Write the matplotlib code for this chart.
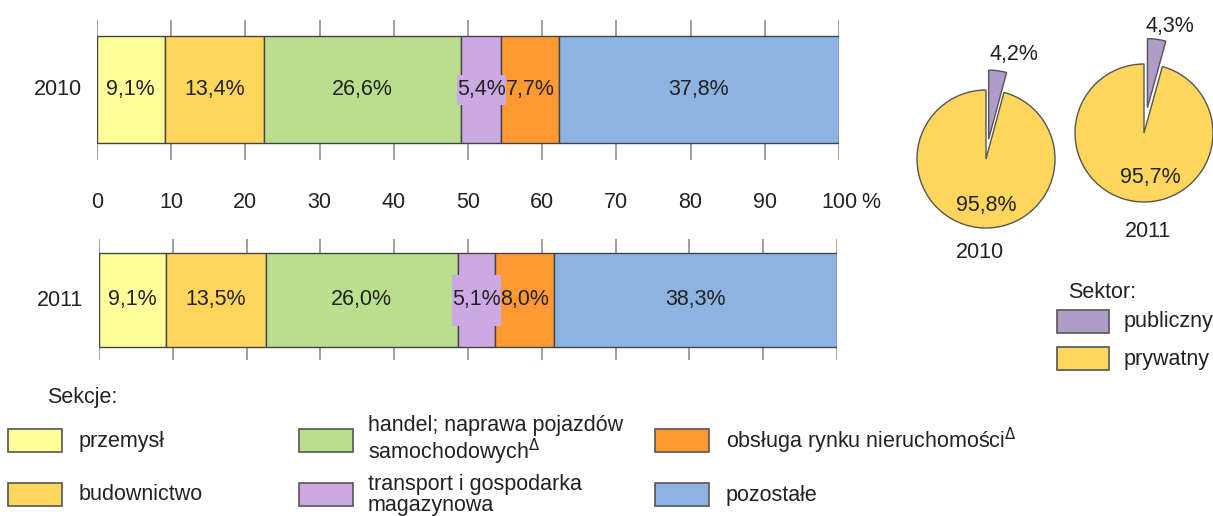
import numpy as np
import matplotlib
matplotlib.use("Agg")
import matplotlib.pyplot as plt
from matplotlib.patches import Rectangle
import matplotlib.transforms as mtransforms

plt.rcParams['font.family'] = ['Liberation Sans', 'DejaVu Sans']
plt.rcParams['mathtext.fontset'] = 'dejavusans'

# data
sections = ['przemysł', 'budownictwo', 'handel; naprawa pojazdów\nsamochodowych$^{\\Delta}$',
            'transport i gospodarka\nmagazynowa', 'obsługa rynku nieruchomości$^{\\Delta}$', 'pozostałe']
share_2010 = [9.1, 13.4, 26.6, 5.4, 7.7, 37.8]
share_2011 = [9.1, 13.5, 26.0, 5.1, 8.0, 38.3]
sector_names = ['publiczny', 'prywatny']
sector_2010 = [4.2, 95.8]
sector_2011 = [4.3, 95.7]
tick_vals = [0, 10, 20, 30, 40, 50, 60, 70, 80, 90, 100]

sec_colors = ['#FEFE9A', '#FFD65C', '#B9DF8E', '#CDA9E3', '#FF9A33', '#8DB3E2']
pie_colors = ['#AF9DC8', '#FFD65C']
TXT = '#222222'
EDGE = '#444444'
FS = 15.5

W, H = 1213, 516
fig = plt.figure(figsize=(W / 100, H / 100), dpi=100)


def px_axes(x0, y0, x1, y1):
    # axes from pixel box (top-left origin)
    return fig.add_axes([x0 / W, 1 - y1 / H, (x1 - x0) / W, (y1 - y0) / H])


def fmt(v):
    return ('%.1f' % v).replace('.', ',') + '%'


def bar_row(vals, year, x0, x1, ax_top, bar_top, bar_bot, ax_bot, box_px):
    ax = px_axes(x0, ax_top, x1, ax_bot)
    bh = bar_bot - bar_top
    ppu = (x1 - x0) / 100.0
    ax.set_xlim(0, 100)
    ax.set_ylim(-(ax_bot - bar_bot) / bh, 1 + (bar_top - ax_top) / bh)
    ax.axis('off')
    ax.vlines(tick_vals, *ax.get_ylim(), color='#999999', lw=1.3, zorder=0)
    left = 0
    for i, v in enumerate(vals):
        ax.barh(0.5, v, height=1, left=left, color=sec_colors[i], edgecolor=EDGE, lw=1, zorder=2)
        mid = left + v / 2
        if i == 3:
            # narrow segment: label sits on its own background patch
            bw, bhh = box_px[0] / ppu, box_px[1] / bh
            ax.add_patch(Rectangle((mid - bw / 2, 0.5 - bhh / 2), bw, bhh,
                                   facecolor=sec_colors[i], edgecolor='none', zorder=3))
        ax.text(mid, 0.5, fmt(v), ha='center', va='center', fontsize=FS, color=TXT, zorder=4)
        left += v
    ax.text(-5.3, 0.5, year, ha='center', va='center', fontsize=FS, color=TXT)
    return ax


ax1 = bar_row(share_2010, '2010', 97, 839, 20, 36, 143, 160, (49, 30))
ax2 = bar_row(share_2011, '2011', 99, 837, 239, 253, 347, 360, (49, 51))

# shared tick labels between the bars
trans = mtransforms.blended_transform_factory(ax1.transData, fig.transFigure)
for t in tick_vals:
    ax1.text(t, 1 - 203 / H, str(t), transform=trans, ha='center', va='center', fontsize=FS, color=TXT)
ax1.text(104.3, 1 - 203 / H, '%', transform=trans, ha='center', va='center', fontsize=FS, color=TXT)


def sector_pie(vals, year, cx, cy, r, explode, lab_small, lab_big, lab_year):
    half = 100
    ax = px_axes(cx - half, cy - half, cx + half, cy + half)
    ax.pie(vals, colors=pie_colors, startangle=90, counterclock=False, explode=[explode, 0],
           wedgeprops=dict(edgecolor='#555555', linewidth=1))
    lim = half / r
    ax.set_xlim(-lim, lim)
    ax.set_ylim(-lim, lim)
    ax.set_aspect('equal')
    ax.axis('off')
    ax.text(*lab_small, fmt(vals[0]), ha='center', va='center', fontsize=FS, color=TXT)
    ax.text(*lab_big, fmt(vals[1]), ha='center', va='center', fontsize=FS, color=TXT)
    ax.text(*lab_year, year, ha='center', va='center', fontsize=FS, color=TXT)


sector_pie(sector_2010, '2010', 986, 159, 69, 0.29, (0.41, 1.51), (0.01, -0.67), (-0.09, -1.36))
sector_pie(sector_2011, '2011', 1144, 133, 69, 0.37, (0.38, 1.54), (0.09, -0.64), (0.06, -1.43))

# legends drawn on an overlay in pixel coordinates
lg = fig.add_axes([0, 0, 1, 1])
lg.set_xlim(0, W)
lg.set_ylim(H, 0)
lg.axis('off')


def key(x, y, w, h, color):
    lg.add_patch(Rectangle((x, y), w, h, facecolor=color, edgecolor='#555555', lw=1.2))


lg.text(1068, 293, 'Sektor:', ha='left', va='center', fontsize=FS, color=TXT)
for i, name in enumerate(sector_names):
    y = 310 + i * 37
    key(1057, y, 52, 23, pie_colors[i])
    lg.text(1124, y + 12, name, ha='left', va='center', fontsize=FS, color=TXT)

lg.text(47, 398, 'Sekcje:', ha='left', va='center', fontsize=FS, color=TXT)
cols = [(8, 79), (299, 368), (655, 726)]
for i, name in enumerate(sections):
    c, r = divmod(i, 2)
    bx, tx = cols[c]
    y = 429 + r * 54
    key(bx, y, 54, 23, sec_colors[i])
    lg.text(tx, y + 12, name, ha='left', va='center', fontsize=FS, color=TXT, linespacing=1.0)

fig.savefig('out.png', dpi=100)
